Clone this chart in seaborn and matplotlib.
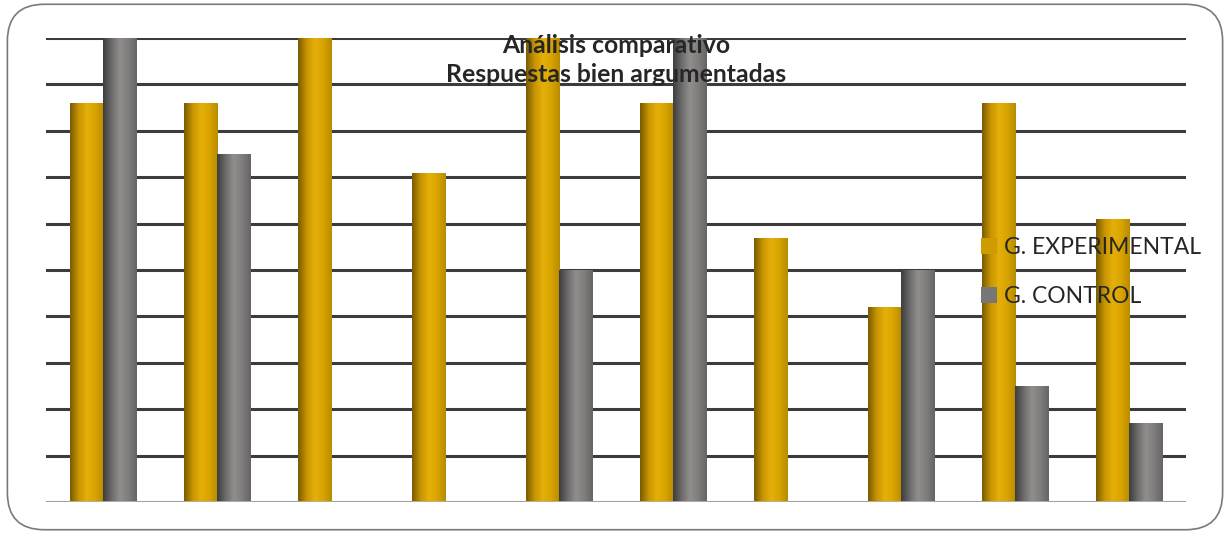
import numpy as np
import pandas as pd
import seaborn as sns
import matplotlib.pyplot as plt
from matplotlib.patches import FancyBboxPatch, Patch
from matplotlib.colors import LinearSegmentedColormap

# Questions 1..10, percentage of well-argued answers per group
preguntas = ["P1", "P2", "P3", "P4", "P5", "P6", "P7", "P8", "P9", "P10"]
experimental = [86, 86, 100, 71, 100, 86, 57, 42, 86, 61]
control = [100, 75, 0, 0, 50, 100, 0, 50, 25, 17]
grupos = ["G. EXPERIMENTAL", "G. CONTROL"]
titulo = "Análisis comparativo\nRespuestas bien argumentadas"

df = pd.DataFrame({
    "pregunta": preguntas * 2,
    "grupo": [grupos[0]] * len(preguntas) + [grupos[1]] * len(preguntas),
    "valor": experimental + control,
})

sns.set_theme(style="white")
plt.rcParams["font.family"] = ["Lato", "DejaVu Sans"]

fig = plt.figure(figsize=(12.3, 5.34), dpi=100)
ax = fig.add_axes([0.0374, 0.0599, 0.9268, 0.8689])

base_colors = {grupos[0]: "#cf9c00", grupos[1]: "#787676"}
sns.barplot(data=df, x="pregunta", y="valor", hue="grupo", palette=base_colors,
            width=0.58, ax=ax, zorder=3, linewidth=0, saturation=1, legend=False)

# Cylinder shading: horizontal gradient clipped to each bar
shades = {
    grupos[0]: ["#7a5c00", "#c79400", "#e6b00a", "#d8a400", "#b88c00"],
    grupos[1]: ["#3e3e3e", "#6c6a6a", "#928e8e", "#807d7d", "#666464"],
}
grad = np.linspace(0, 1, 64).reshape(1, -1)
for cont, g in zip(ax.containers, grupos):
    cmap = LinearSegmentedColormap.from_list(g, shades[g])
    for bar in cont:
        h = bar.get_height()
        if h <= 0:
            continue
        x0 = bar.get_x()
        w = bar.get_width()
        im = ax.imshow(grad, cmap=cmap, aspect="auto", extent=(x0, x0 + w, 0, h),
                       zorder=4, interpolation="bicubic")
        im.set_clip_path(bar)

ax.set_xlim(-0.5, len(preguntas) - 0.5)
ax.set_ylim(0, 100)
ax.set_yticks(np.arange(0, 101, 10))
ax.yaxis.grid(True, color="#3c3c3c", linewidth=2.2, zorder=0)
ax.set_axisbelow(True)
ax.set_xticks([])
ax.tick_params(left=False, labelleft=False)
ax.set_xlabel("")
ax.set_ylabel("")
for s in ax.spines.values():
    s.set_visible(False)
ax.axhline(0, color="#b0b0b0", linewidth=2, zorder=5)

ax.text(0.5, 1.008, titulo, transform=ax.transAxes, ha="center", va="top",
        fontsize=17.8, fontweight="bold", linespacing=1.3, zorder=6)

handles = [Patch(facecolor=base_colors[g], edgecolor="none", label=g) for g in grupos]
leg = ax.legend(handles=handles, loc="upper left", bbox_to_anchor=(0.802, 0.615),
                frameon=False, fontsize=16.5, handlelength=0.7, handleheight=0.7,
                handletextpad=0.3, labelspacing=1.2)
leg.set_zorder(7)

# Rounded frame around the whole chart
frame = FancyBboxPatch((0.006, 0.008), 0.988, 0.984,
                       boxstyle="round,pad=0,rounding_size=0.03",
                       transform=fig.transFigure, facecolor="none",
                       edgecolor="#7a7a7a", linewidth=1.2,
                       mutation_aspect=1230 / 534)
fig.patches.append(frame)

fig.savefig("out.png", dpi=100)
